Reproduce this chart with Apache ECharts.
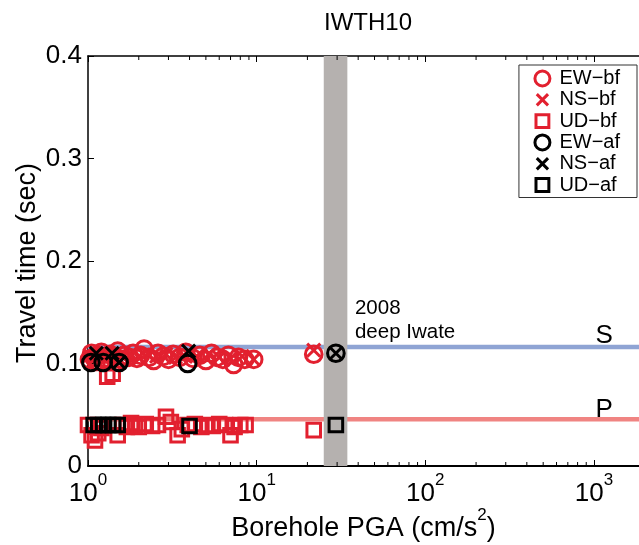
<!DOCTYPE html>
<html>
<head>
<meta charset="utf-8">
<script src="https://cdn.jsdelivr.net/npm/echarts@6/dist/echarts.min.js"></script>
<style>
  html, body { margin: 0; padding: 0; background: #ffffff; }
  #chart { width: 639px; height: 545px; }
</style>
</head>
<body>
<div id="chart"></div>
<script>
// Station and reference values
const STATION = 'IWTH10';
const S_TIME = 0.116;            // S-wave travel time (sec)
const P_TIME = 0.0455;           // P-wave travel time (sec)
const EVENT_BAND = [25, 34.5];   // PGA range of the 2008 deep Iwate event
const EVENT_LABEL = ['2008', 'deep Iwate'];
const X_RANGE = [1, 1850];
const Y_TICKS = [0, 0.1, 0.2, 0.3, 0.4];

// Travel times before the event: [PGA (cm/s^2), time (sec)]
const EW_BF = [
  [1.02, 0.104], [1.05, 0.110], [1.08, 0.106], [1.12, 0.102], [1.15, 0.108],
  [1.20, 0.111], [1.25, 0.105], [1.30, 0.103], [1.35, 0.109], [1.42, 0.106],
  [1.50, 0.112], [1.58, 0.104], [1.65, 0.108], [1.75, 0.106], [1.85, 0.110],
  [1.95, 0.105], [2.05, 0.108], [2.15, 0.114], [2.30, 0.106], [2.45, 0.103],
  [2.60, 0.110], [2.80, 0.107], [3.00, 0.104], [3.20, 0.109], [3.50, 0.106],
  [3.80, 0.111], [4.20, 0.105], [4.60, 0.108], [5.00, 0.103], [5.40, 0.110],
  [5.80, 0.106], [6.30, 0.104], [6.80, 0.108], [7.30, 0.099], [7.80, 0.106],
  [8.50, 0.104], [9.60, 0.104], [21.8, 0.109]
];
const NS_BF = [
  [1.03, 0.108], [1.10, 0.105], [1.22, 0.109], [1.33, 0.106], [1.45, 0.110],
  [1.60, 0.107], [1.80, 0.109], [2.00, 0.106], [2.25, 0.110], [2.55, 0.107],
  [2.90, 0.109], [3.30, 0.106], [3.70, 0.108], [4.40, 0.107], [5.20, 0.109],
  [6.00, 0.106], [7.00, 0.105], [8.20, 0.107], [9.60, 0.104], [21.8, 0.113]
];
const UD_BF = [
  [1.00, 0.040], [1.05, 0.030], [1.10, 0.025], [1.15, 0.032], [1.20, 0.037],
  [1.30, 0.087], [1.40, 0.090], [1.50, 0.030], [1.60, 0.040], [1.70, 0.038],
  [1.80, 0.042], [1.90, 0.040], [2.00, 0.038], [2.20, 0.041], [2.40, 0.039],
  [2.60, 0.040], [2.90, 0.048], [3.10, 0.043], [3.40, 0.030], [3.60, 0.036],
  [3.90, 0.040], [4.30, 0.041], [4.70, 0.038], [5.10, 0.040], [5.50, 0.039],
  [6.00, 0.041], [6.50, 0.040], [7.00, 0.030], [7.40, 0.038], [8.00, 0.040],
  [8.60, 0.040], [21.8, 0.035]
];

// Travel times after the event
const EW_AF = [[1.04, 0.101], [1.23, 0.101], [1.53, 0.101], [3.90, 0.100], [29.5, 0.110]];
const NS_AF = [[1.12, 0.110], [1.39, 0.110], [1.53, 0.101], [3.95, 0.112], [29.5, 0.110]];
const UD_AF = [[1.08, 0.040], [1.15, 0.040], [1.23, 0.040], [1.32, 0.040], [1.41, 0.040],
               [1.50, 0.040], [4.00, 0.039], [29.5, 0.040]];

const SERIES_NAMES = ['EW\u2212bf', 'NS\u2212bf', 'UD\u2212bf', 'EW\u2212af', 'NS\u2212af', 'UD\u2212af'];

const RED = '#e2202f';
const BLACK = '#000000';
const FONT = '"Liberation Sans", Arial, Helvetica, sans-serif';

// Marker outlines; the zero-length end segments pad the bounding box so
// the three shapes keep their relative sizes.
const SYM_CIRCLE = 'path://M-1,-1L-1,-1M0,5A5,5,0,1,1,10,5A5,5,0,1,1,0,5ZM11,11L11,11';
const SYM_CROSS = 'path://M-3,-3L-3,-3M0,0L10,10M10,0L0,10M13,13L13,13';
const SYM_SQUARE = 'path://M-2,-2L-2,-2M0,0L10,0L10,10L0,10ZM12,12L12,12';

// Minor ticks of the logarithmic PGA axis (2..9 in each decade)
const minorTicks = [];
for (let k = 0; k < 4; k++) {
  for (let m = 2; m <= 9; m++) {
    const v = m * Math.pow(10, k);
    if (v < X_RANGE[1]) minorTicks.push([v, 0]);
  }
}

function scatter(name, data, symbol, size, color) {
  return {
    name: name,
    type: 'scatter',
    data: data,
    symbol: symbol,
    symbolSize: size,
    symbolKeepAspect: true,
    z: 3,
    itemStyle: { color: 'rgba(0,0,0,0)', borderColor: color, borderWidth: 3, opacity: 1 },
    emphasis: { disabled: true },
    silent: true
  };
}

// invisible anchor that only carries a text label
function textMark(coord, text, labelOpts) {
  return {
    symbol: 'circle',
    symbolSize: 1,
    silent: true,
    itemStyle: { color: 'rgba(0,0,0,0)' },
    data: [{ coord: coord }],
    label: Object.assign({ show: true, formatter: text, color: '#000', fontFamily: FONT }, labelOpts)
  };
}

function refLine(value, color, label, dy) {
  return {
    type: 'line',
    data: [[X_RANGE[0], value], [X_RANGE[1], value]],
    showSymbol: false,
    symbol: 'none',
    z: 0,
    silent: true,
    lineStyle: { color: color, width: 4.5 },
    markPoint: textMark([1150, value], label, { position: 'inside', offset: [0, dy], fontSize: 26 })
  };
}

const chart = echarts.init(document.getElementById('chart'), null, { renderer: 'canvas' });

const option = {
  backgroundColor: '#ffffff',
  animation: false,
  title: {
    text: STATION,
    left: 363,
    top: 6,
    textAlign: 'center',
    textStyle: { fontSize: 24, fontWeight: 'normal', color: '#000', fontFamily: FONT }
  },
  grid: { left: 88, right: 0, top: 56, bottom: 79, containLabel: false, outerBoundsMode: 'none' },
  legend: {
    orient: 'vertical',
    right: 2,
    top: 65,
    data: SERIES_NAMES,
    itemWidth: 20,
    itemHeight: 18,
    itemGap: 0.3,
    padding: [3, 17, 2, 13],
    borderColor: '#333',
    borderWidth: 1,
    backgroundColor: '#fff',
    symbolKeepAspect: true,
    selectedMode: false,
    itemStyle: { borderWidth: 3 },
    textStyle: { fontSize: 20, lineHeight: 21, color: '#000', fontFamily: FONT, padding: [0, 0, 0, 2] }
  },
  xAxis: [
    {
      type: 'log',
      logBase: 10,
      min: X_RANGE[0],
      max: X_RANGE[1],
      position: 'bottom',
      name: '{n|Borehole PGA (cm/s}{s|2}{n|)}',
      nameLocation: 'middle',
      nameGap: 41,
      nameMoveOverlap: false,
      nameTextStyle: {
        rich: {
          n: { fontSize: 27, fontFamily: FONT, color: '#000', lineHeight: 35, verticalAlign: 'bottom' },
          s: { fontSize: 17, fontFamily: FONT, color: '#000', lineHeight: 17, verticalAlign: 'top' }
        }
      },
      axisLine: { show: true, lineStyle: { color: '#000', width: 2 } },
      axisTick: { show: true, inside: true, length: 6, lineStyle: { color: '#000', width: 1 } },
      splitLine: { show: false },
      axisLabel: {
        margin: 6,
        formatter: function (v) {
          const e = Math.log10(v);
          if (Math.abs(e - Math.round(e)) > 1e-6) return '';
          return '{b|10}{s|' + Math.round(e) + '}';
        },
        rich: {
          b: { fontSize: 26, fontFamily: FONT, color: '#000', lineHeight: 35, verticalAlign: 'bottom' },
          s: { fontSize: 17, fontFamily: FONT, color: '#000', lineHeight: 17, verticalAlign: 'top' }
        }
      }
    },
    {
      type: 'log',
      logBase: 10,
      min: X_RANGE[0],
      max: X_RANGE[1],
      position: 'top',
      axisLine: { show: true, lineStyle: { color: '#000', width: 1.5 } },
      axisTick: { show: true, inside: true, length: 6, lineStyle: { color: '#000', width: 1 } },
      axisLabel: { show: false },
      splitLine: { show: false }
    }
  ],
  yAxis: {
    type: 'value',
    min: Y_TICKS[0],
    max: Y_TICKS[Y_TICKS.length - 1],
    interval: 0.1,
    name: 'Travel time (sec)',
    nameLocation: 'middle',
    nameGap: 47,
    nameMoveOverlap: false,
    nameTextStyle: { fontSize: 27, fontFamily: FONT, color: '#000', padding: [0, 4, 0, 0] },
    axisLine: { show: true, lineStyle: { color: '#000', width: 1.5 } },
    axisTick: { show: true, inside: true, length: 6, lineStyle: { color: '#000', width: 1 } },
    splitLine: { show: false },
    axisLabel: {
      margin: 6,
      fontSize: 26,
      fontFamily: FONT,
      color: '#000',
      formatter: function (v) { return v === 0 ? '0' : v.toFixed(1); }
    }
  },
  series: [
    refLine(S_TIME, '#8fa4d4', 'S', -11),
    refLine(P_TIME, '#f08482', 'P', -10),
    {
      // event band and annotation
      type: 'custom',
      silent: true,
      z: 1,
      data: [],
      renderItem: function () { return null; },
      markArea: {
        silent: true,
        z: 1,
        itemStyle: { color: '#b5b1af', opacity: 1 },
        data: [[{ xAxis: EVENT_BAND[0] }, { xAxis: EVENT_BAND[1] }]]
      },
      markPoint: textMark([38, 0.142], EVENT_LABEL.join('\n'),
        { position: 'right', distance: 0, fontSize: 20.5, lineHeight: 24, align: 'left' })
    },
    {
      // minor ticks on the bottom and top PGA axes
      type: 'custom',
      silent: true,
      z: 4,
      clip: false,
      data: minorTicks,
      renderItem: function (params, api) {
        const v = api.value(0);
        const b = api.coord([v, Y_TICKS[0]]);
        const t = api.coord([v, Y_TICKS[Y_TICKS.length - 1]]);
        const st = { stroke: '#000', lineWidth: 1 };
        return {
          type: 'group',
          children: [
            { type: 'line', shape: { x1: b[0], y1: b[1], x2: b[0], y2: b[1] - 4 }, style: st },
            { type: 'line', shape: { x1: t[0], y1: t[1], x2: t[0], y2: t[1] + 4 }, style: st }
          ]
        };
      }
    },
    scatter(SERIES_NAMES[0], EW_BF, SYM_CIRCLE, 20, RED),
    scatter(SERIES_NAMES[1], NS_BF, SYM_CROSS, 21, RED),
    scatter(SERIES_NAMES[2], UD_BF, SYM_SQUARE, 19, RED),
    scatter(SERIES_NAMES[3], EW_AF, SYM_CIRCLE, 20, BLACK),
    scatter(SERIES_NAMES[4], NS_AF, SYM_CROSS, 21, BLACK),
    scatter(SERIES_NAMES[5], UD_AF, SYM_SQUARE, 19, BLACK)
  ]
};

chart.setOption(option);
</script>
</body>
</html>
